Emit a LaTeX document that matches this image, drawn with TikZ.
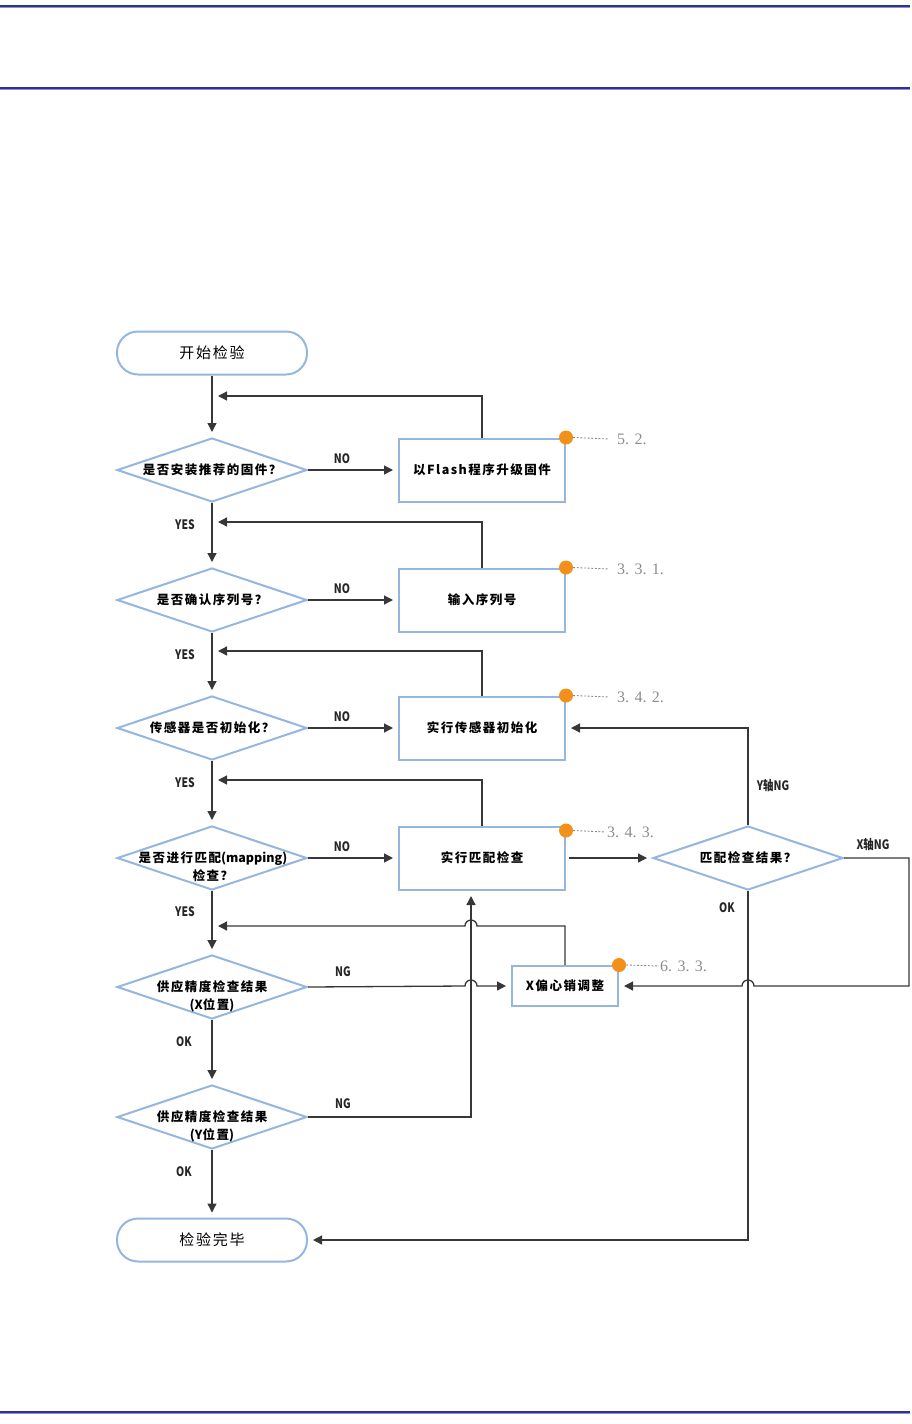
\documentclass[tikz,border=0pt]{standalone}
\usepackage{fontspec}
\setmainfont{Noto Sans CJK SC}
\newfontfamily\cjkt[LetterSpace=12]{Noto Sans CJK SC}
\newfontfamily\refont{Liberation Serif}
\usetikzlibrary{shapes.geometric,arrows.meta}
\definecolor{boxblue}{RGB}{149,182,222}
\definecolor{lineg}{RGB}{55,55,55}
\definecolor{dotor}{RGB}{242,144,26}
\definecolor{refg}{RGB}{140,140,140}
\definecolor{navyA}{RGB}{46,49,146}
\definecolor{navyB}{RGB}{140,145,210}
\newcommand{\narrowlab}[1]{\scalebox{0.8}[1]{#1}}
\begin{document}
\begin{tikzpicture}[x=1pt,y=-1pt,
  term/.style={draw=boxblue,line width=2pt,rectangle,rounded corners=21pt,minimum width=190pt,minimum height=43pt,inner sep=0pt,font=\cjkt\fontsize{15}{18}\selectfont},
  dec/.style={draw=boxblue,line width=2pt,diamond,minimum width=190pt,minimum height=64pt,inner sep=0pt},
  dtext/.style={font=\cjkt\bfseries\fontsize{12.5}{18}\selectfont,align=center,inner sep=0pt},
  proc/.style={draw=boxblue,line width=2pt,rectangle,minimum width=166pt,minimum height=63pt,inner sep=0pt,font=\cjkt\bfseries\fontsize{12.5}{15}\selectfont},
  arr/.style={draw=lineg,line width=1.3pt,-{Triangle[length=9pt,width=9pt]},shorten >=5pt},
  lab/.style={font=\bfseries\fontsize{13}{15}\selectfont,inner sep=1pt,text=black!85},
  refl/.style={font=\refont\fontsize{16}{17}\selectfont,text=refg,anchor=west,inner sep=0pt},
  dotl/.style={draw=refg,line width=0.9pt,dash pattern=on 2pt off 1.6pt},
  odot/.style={circle,fill=dotor,minimum size=14pt,inner sep=0pt},
  hdrA/.style={draw=navyA,line width=2pt},
  hdrB/.style={draw=navyB,line width=1pt}
]
\useasboundingbox (0,0) rectangle (912,1424);

% header / footer rules
\draw[hdrA] (0,5.5) -- (910,5.5);
\draw[hdrB] (0,7) -- (910,7);
\draw[hdrA] (0,88) -- (910,88);
\draw[hdrB] (0,89.5) -- (910,89.5);
\draw[hdrA] (0,1412) -- (910,1412);
\draw[hdrB] (0,1413.5) -- (910,1413.5);

% terminals
\node[term] (s) at (212,353) {开始检验};
\node[term] (e) at (212,1240) {检验完毕};

% decisions
\node[dec] (d1) at (212,470) {};
\node[dtext] (t1) at (d1) {是否安装推荐的固件？};
\node[dec] (d2) at (212,600) {};
\node[dtext] (t2) at (d2) {是否确认序列号？};
\node[dec] (d3) at (212,728) {};
\node[dtext] (t3) at (d3) {传感器是否初始化？};
\node[dec] (d4) at (212,858) {};
\node[dtext] (t4) at (213,867) {是否进行匹配{\addfontfeature{LetterSpace=0}(mapping)}\\检查？};
\node[dec] (d5) at (212,987) {};
\node[dtext] (t5) at (212,996) {供应精度检查结果\\{\addfontfeature{LetterSpace=0}(X}位置{\addfontfeature{LetterSpace=0})}};
\node[dec] (d6) at (212,1117) {};
\node[dtext] (t6) at (212,1126) {供应精度检查结果\\{\addfontfeature{LetterSpace=0}(Y}位置{\addfontfeature{LetterSpace=0})}};
\node[dec] (d7) at (748,858) {};
\node[dtext] (t7) at (d7) {匹配检查结果？};

% processes
\node[proc] (b1) at (482,470) {以Flash程序升级固件};
\node[proc] (b2) at (482,600) {输入序列号};
\node[proc] (b3) at (482,728) {实行传感器初始化};
\node[proc] (b4) at (482,858) {实行匹配检查};
\node[proc,minimum width=106pt,minimum height=40pt] (b5) at (565,986) {X偏心销调整};

% free ends
\coordinate (f1) at (213,396);
\coordinate (f2) at (213,522);
\coordinate (f3) at (213,651);
\coordinate (f4) at (213,780);
\coordinate (f5) at (213,926);
\coordinate (b4in) at (471,891);

% main flow
\draw[arr] (s.south) -- (d1.north);
\draw[arr] (d1.south) -- (d2.north);
\draw[arr] (d2.south) -- (d3.north);
\draw[arr] (d3.south) -- (d4.north);
\draw[arr] (d4.south) -- (d5.north);
\draw[arr] (d5.south) -- (d6.north);
\draw[arr] (d6.south) -- (e.north);

\draw[arr] (d1.east) -- (b1.west);
\draw[arr] (d2.east) -- (b2.west);
\draw[arr] (d3.east) -- (b3.west);
\draw[arr] (d4.east) -- (b4.west);

% feedback
\draw[arr] (b1.north) |- (f1);
\draw[arr] (b2.north) |- (f2);
\draw[arr] (b3.north) |- (f3);
\draw[arr] (b4.north) |- (f4);
\draw[arr] (b5.north) -- (565,926) -- (477,926) arc[start angle=0,end angle=180,radius=6pt] -- (f5);

% NG branches
\draw[arr] (d5.east) -- (465,986) arc[start angle=180,end angle=0,radius=6pt] -- (b5.west);
\draw[arr] (d6.east) -| (b4in);

% mapping result
\draw[arr,shorten <=3pt] (b4.east) -- (d7.west);
\draw[arr] (d7.north) |- (b3.east);
\draw[arr] (d7.east) -- (909,858) -- (909,986) -- (754,986) arc[start angle=0,end angle=180,radius=6pt] -- (b5.east);
\draw[arr] (d7.south) |- (e.east);

% connector labels
\node[lab] (n1) at (342,459) {\narrowlab{NO}};
\node[lab] (n2) at (342,589) {\narrowlab{NO}};
\node[lab] (n3) at (342,717) {\narrowlab{NO}};
\node[lab] (n4) at (342,847) {\narrowlab{NO}};
\node[lab] (y1) at (185,525) {\narrowlab{YES}};
\node[lab] (y2) at (185,655) {\narrowlab{YES}};
\node[lab] (y3) at (185,783) {\narrowlab{YES}};
\node[lab] (y4) at (185,912) {\narrowlab{YES}};
\node[lab] (g1) at (343,972) {\narrowlab{NG}};
\node[lab] (g2) at (343,1104) {\narrowlab{NG}};
\node[lab] (k1) at (184,1042) {\narrowlab{OK}};
\node[lab] (k2) at (184,1172) {\narrowlab{OK}};
\node[lab] (k3) at (727,908) {\narrowlab{OK}};
\node[lab] (yng) at (773,786) {\narrowlab{Y轴NG}};
\node[lab] (xng) at (873,845) {\narrowlab{X轴NG}};

% reference markers
\node[odot] (o1) at (b1.north east) {};
\node[odot] (o2) at (b2.north east) {};
\node[odot] (o3) at (b3.north east) {};
\node[odot] (o4) at ([yshift=-5pt]b4.north east) {};
\node[odot] (o5) at (b5.north east) {};
\node[refl] (r1) at (617,439) {5. 2.};
\node[refl] (r2) at (617,569) {3. 3. 1.};
\node[refl] (r3) at (617,697) {3. 4. 2.};
\node[refl] (r4) at (607,832) {3. 4. 3.};
\node[refl] (r5) at (660,966) {6. 3. 3.};
\draw[dotl] (o1.east) -- ([xshift=-8pt]r1.west);
\draw[dotl] (o2.east) -- ([xshift=-8pt]r2.west);
\draw[dotl] (o3.east) -- ([xshift=-8pt]r3.west);
\draw[dotl] (o4.east) -- ([xshift=-1pt]r4.west);
\draw[dotl] (o5.east) -- ([xshift=-1pt]r5.west);
\end{tikzpicture}
\end{document}
